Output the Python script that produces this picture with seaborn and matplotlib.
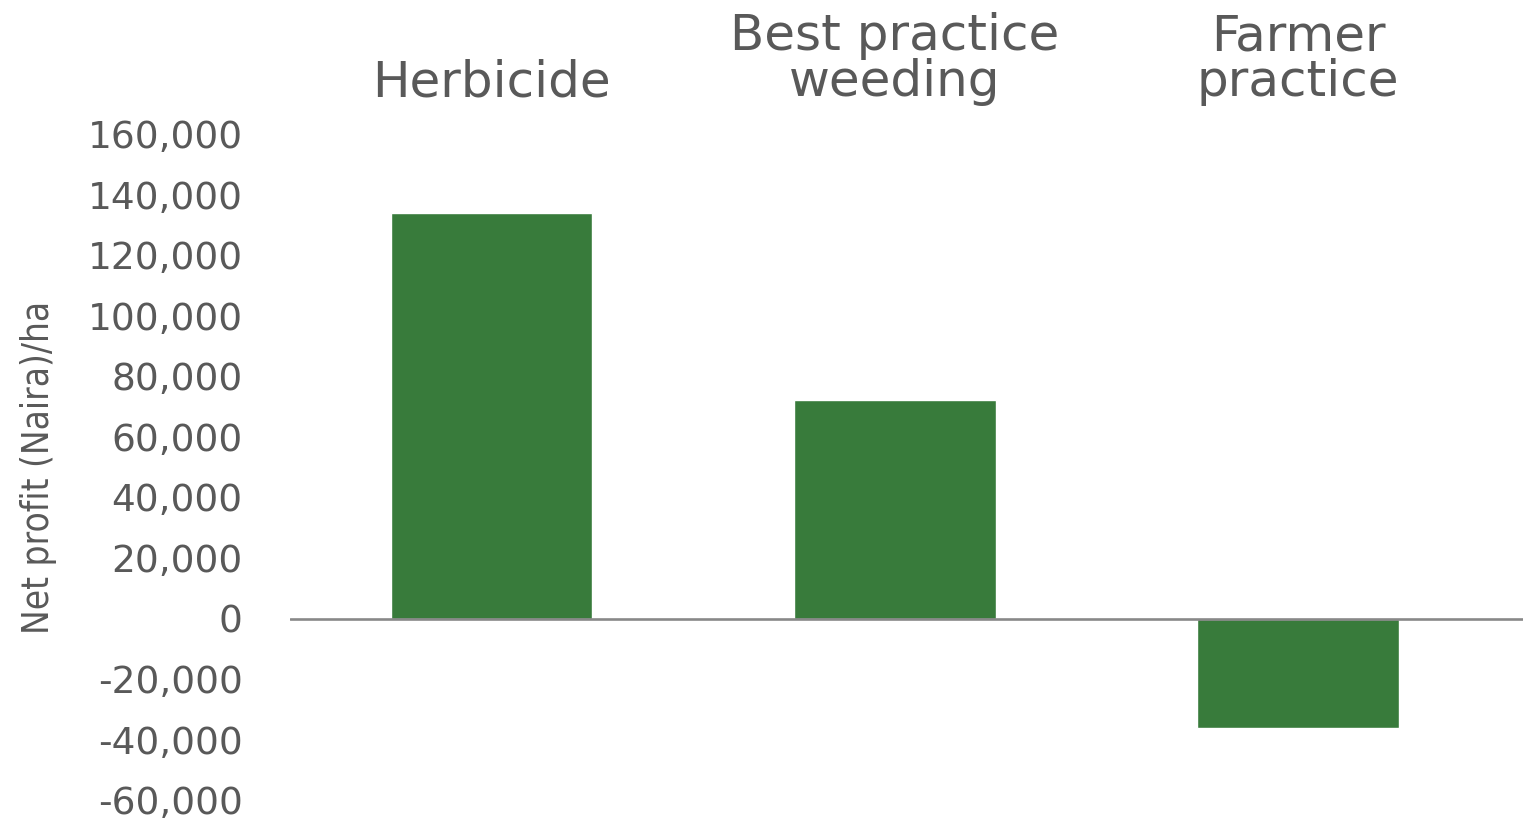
import matplotlib
matplotlib.use("Agg")
import matplotlib.pyplot as plt
import seaborn as sns
import pandas as pd

# data
treatments = ["Herbicide", "Best practice\nweeding", "Farmer\npractice"]
net_profit = [134000, 72000, -36000]
y_ticks = [-60000, -40000, -20000, 0, 20000, 40000, 60000, 80000, 100000, 120000, 140000, 160000]

df = pd.DataFrame({"treatment": treatments, "profit": net_profit})

sns.set_style("white")
plt.rcParams["font.family"] = ["DejaVu Sans"]

text_grey = "#595959"
fig = plt.figure(figsize=(15.23, 8.25), dpi=100)
ax = fig.add_axes([0.1904, 0.03, 0.8096, 0.8076])

sns.barplot(data=df, x="treatment", y="profit", order=treatments,
            color="#387B3B", saturation=1, width=0.5, ax=ax)

ax.axhline(0, color="#888888", lw=1.9, zorder=3)

ax.set_ylim(-60000, 160000)
ax.set_xlim(-0.5, 2.558)
ax.set_yticks(y_ticks)
ax.set_yticklabels([f"{v:,}" for v in y_ticks], fontsize=27, color=text_grey)

ax.xaxis.tick_top()
ax.tick_params(axis="x", length=0, pad=20, labelcolor=text_grey)
for lbl in ax.get_xticklabels():
    lbl.set_fontsize(36)
    lbl.set_linespacing(0.95)
ax.tick_params(axis="y", length=0, pad=34)
ax.set_xlabel("")
ax.set_ylabel("Net profit (Naira)/ha", fontsize=26.5, color=text_grey,
              fontstretch="condensed", labelpad=22)

for s in ax.spines.values():
    s.set_visible(False)

fig.savefig("out.png", dpi=100)
